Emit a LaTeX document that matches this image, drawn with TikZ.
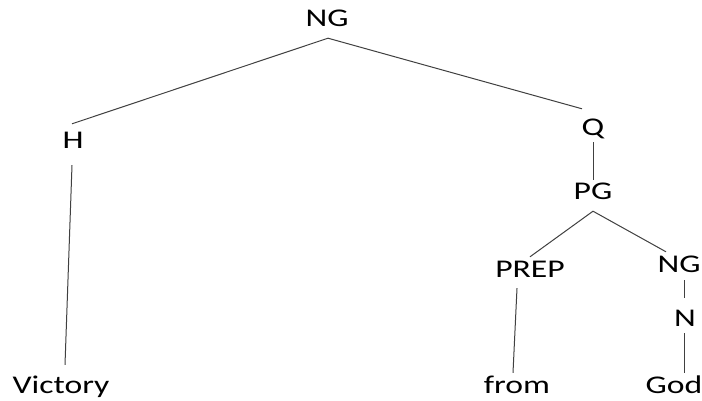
\documentclass[tikz,border=0pt]{standalone}
\usepackage{fontspec}
\usepackage{graphicx}
\setmainfont{Carlito}
\begin{document}
\begin{tikzpicture}[x=1pt,y=-1pt,
  lbl/.style={anchor=base,inner sep=0pt,text height=16pt,text depth=0pt,
    font=\fontsize{25.5}{30}\selectfont,text=black},
  edge/.style={draw=black!75,line width=1pt}]
\useasboundingbox[fill=white] (0,0) rectangle (702,401);
\newcommand{\wide}[1]{\scalebox{1.32}[1]{#1}}
\node[lbl] (ng1) at (327,27) {\wide{NG}};
\node[lbl] (h) at (73,149) {\wide{H}};
\node[lbl] (q) at (593,136) {\wide{Q}};
\node[lbl] (pg) at (593,200) {\wide{PG}};
\node[lbl] (prep) at (530,277) {\wide{PREP}};
\node[lbl] (ng2) at (679,272) {\wide{NG}};
\node[lbl] (n) at (685,326) {\wide{N}};
\node[lbl] (victory) at (61,393) {\wide{Victory}};
\node[lbl] (from) at (517,393) {\wide{from}};
\node[lbl] (god) at (674,393) {\wide{God}};
\draw[edge] ([shift={(-1,-9)}]h.north) -- ([shift={(1,11)}]ng1.south) -- ([shift={(-11,-11)}]q.north);
\draw[edge] ([shift={(-1,16)}]h.south) -- ([shift={(4,-12)}]victory.north);
\draw[edge] ([shift={(0,6)}]q.south) -- ([shift={(0,-4)}]pg.north);
\draw[edge] ([shift={(0,-4)}]prep.north) -- ([shift={(0,11)}]pg.south) -- ([shift={(-13,-4)}]ng2.north);
\draw[edge] ([shift={(-13,11)}]prep.south) -- ([shift={(-4,-4)}]from.north);
\draw[edge] ([shift={(5,8)}]ng2.south) -- ([shift={(-1,-12)}]n.north);
\draw[edge] ([shift={(-1,7)}]n.south) -- ([shift={(10,-4)}]god.north);
\end{tikzpicture}
\end{document}
